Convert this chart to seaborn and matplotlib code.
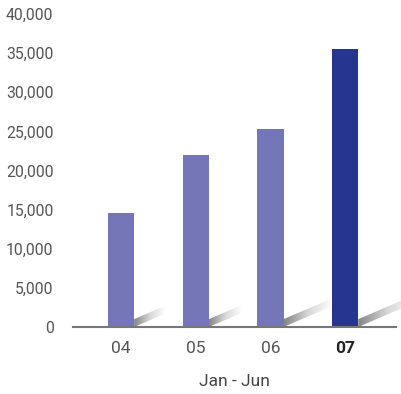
import matplotlib
matplotlib.use("Agg")
import matplotlib.pyplot as plt
import seaborn as sns
import numpy as np
import pandas as pd
from matplotlib.patches import Polygon
from matplotlib.ticker import FuncFormatter

categories = ["04", "05", "06", "07"]
values = [14600, 22000, 25300, 35500]
highlight = [False, False, False, True]
yticks = [0, 5000, 10000, 15000, 20000, 25000, 30000, 35000, 40000]
xlabel = "Jan - Jun"

light = "#7476b8"
dark = "#26358f"
shadow_len = [0.42, 0.44, 0.65, 0.80]  # decorative style, category units

sns.set_theme(style="white")
plt.rcParams['font.family'] = ['Roboto', 'DejaVu Sans']

fig = plt.figure(figsize=(4.01, 3.94), dpi=100)
ax = fig.add_axes([73/401, 1-327/394, (396-73)/401, (327-14)/394])

df = pd.DataFrame({"cat": categories, "val": values,
                   "grp": ["hi" if h else "lo" for h in highlight]})
sns.barplot(data=df, x="cat", y="val", hue="grp", palette={"lo": light, "hi": dark},
            width=0.35, dodge=False, legend=False, ax=ax, saturation=1, linewidth=0)

# decorative gradient shadows
grad = np.linspace(0, 1, 256).reshape(1, -1)
cmap = matplotlib.colors.LinearSegmentedColormap.from_list("sh", ["#858585", "#d8d8d8", "#ffffff"])
bw = 0.35
slope = 2300 / 0.42 * 0.75
thick = 1000
for i, v in enumerate(values):
    xr = i + bw / 2
    L = shadow_len[i]
    poly = Polygon([(xr, 0), (xr + L, L * slope), (xr + L, L * slope + thick), (xr, thick)],
                   closed=True, transform=ax.transData, facecolor="none", edgecolor="none")
    ax.add_patch(poly)
    im = ax.imshow(grad, extent=(xr, xr + L, 0, L * slope + thick), aspect="auto",
                   cmap=cmap, origin="lower", zorder=0.5)
    im.set_clip_path(poly)
    im.set_clip_box(fig.bbox)

ax.set_xlim(-0.643, 3.68)
ax.set_ylim(0, 40000)
ax.set_yticks(yticks)
ax.yaxis.set_major_formatter(FuncFormatter(lambda v, p: f"{int(v):,}"))

for s in ["top", "right", "left"]:
    ax.spines[s].set_visible(False)
ax.spines["bottom"].set_color("#777777")
ax.spines["bottom"].set_linewidth(1.5)
ax.spines["bottom"].set_zorder(3)

ax.tick_params(axis="y", length=0, pad=14, labelsize=11.3, labelcolor="#555555")
ax.tick_params(axis="x", length=0, pad=10, labelsize=12.5, labelcolor="#555555")
for lab, h in zip(ax.get_xticklabels(), highlight):
    if h:
        lab.set_fontweight("bold")
        lab.set_color("#222222")

ax.set_ylabel("")
ax.set_xlabel(xlabel, fontsize=12.5, color="#444444", labelpad=13)
ax.grid(False)

fig.savefig("out.png", dpi=100)
